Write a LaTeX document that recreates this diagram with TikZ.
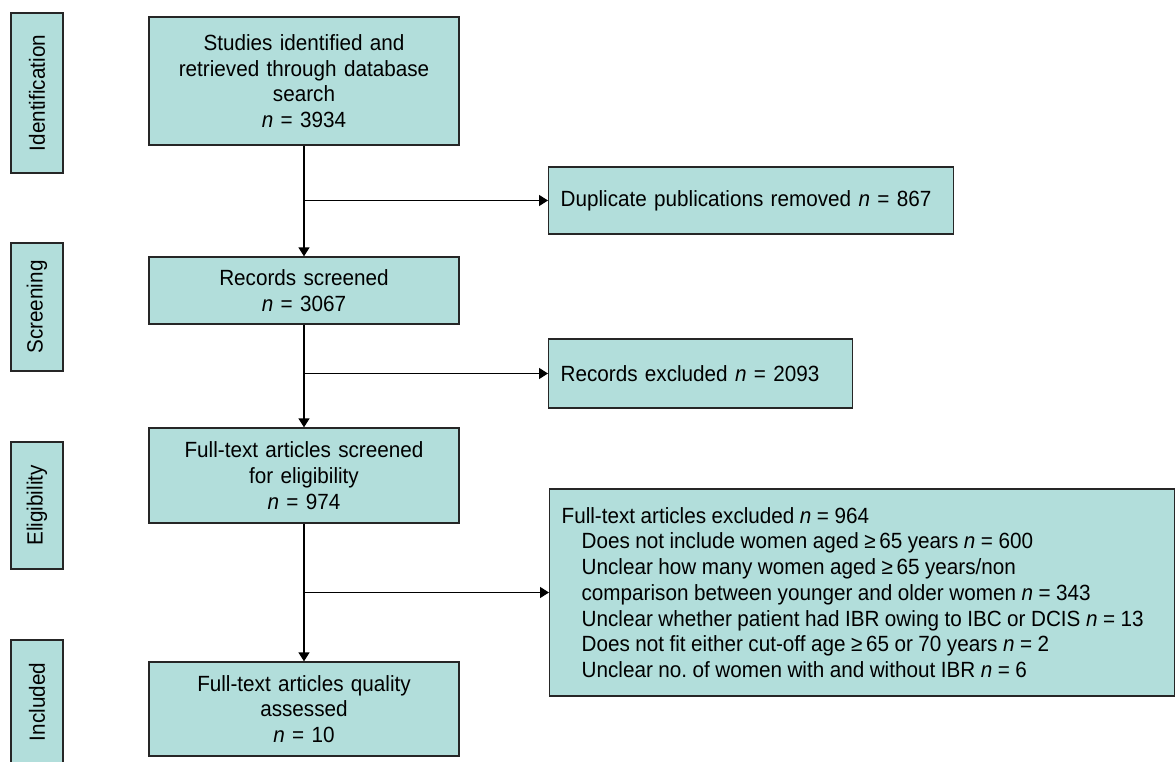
\documentclass[tikz,border=0pt]{standalone}
\usepackage{fontspec}
\setmainfont[FakeStretch=0.94]{Liberation Sans}
\usepackage{xcolor}
\usetikzlibrary{arrows.meta, positioning}
\definecolor{boxfill}{RGB}{178,222,219}

\tikzset{
  flowbox/.style={draw=black!85, line width=1.3pt, fill=boxfill,
    minimum width=310pt, text width=296pt, align=center, inner sep=0pt,
    font=\fontsize{22}{25.7}\selectfont},
  sidebox/.style={draw=black!85, line width=1.3pt, fill=boxfill,
    rotate=90, minimum height=52pt, inner sep=0pt,
    font=\fontsize{22}{25.7}\selectfont},
  exclbox/.style={draw=black!85, line width=1.3pt, fill=boxfill,
    anchor=west, align=left, inner xsep=12pt, inner ysep=0pt,
    font=\fontsize{22}{25.7}\selectfont},
  flow/.style={line width=1.4pt, -{Triangle[length=9pt,width=11pt]}}
}

\begin{document}
\begin{tikzpicture}[x=1pt, y={(0pt,-1pt)}]
\useasboundingbox (0,0) rectangle (1176,762);

% stage labels
\node (ident) [sidebox, minimum width=160pt] at (37,93) {Identification};
\node (screen) [sidebox, minimum width=128pt] at (37,307) {Screening};
\node (elig) [sidebox, minimum width=127pt] at (37,505.5) {Eligibility};
\node (incl) [sidebox, minimum width=124pt] at (37,702) {Included};

% main flow
\node (studies) [flowbox, minimum height=128pt] at (304,81)
  {Studies identified and\\retrieved through database\\search\\\textit{n} = 3934};
\node (records) [flowbox, minimum height=67pt] at (304,290.5)
  {Records screened\\\textit{n} = 3067};
\node (fulltext) [flowbox, minimum height=95pt] at (304,475.5)
  {Full-text articles screened\\for eligibility\\\textit{n} = 974};
\node (quality) [flowbox, minimum height=94pt] at (304,709)
  {Full-text articles quality\\assessed\\\textit{n} = 10};

% exclusions
\node (dupl) [exclbox, text width=381pt, minimum height=67pt] at (548,200.5)
  {Duplicate publications removed \textit{n} = 867};
\node (recexcl) [exclbox, text width=280pt, minimum height=69pt] at (548,373.5)
  {Records excluded \textit{n} = 2093};
\node (ftexcl) [exclbox, inner xsep=10pt, text width=605pt, minimum height=207pt] at (549,592.5)
  {\spaceskip=0.25em
   \hspace*{2pt}Full-text articles excluded \textit{n} = 964\\
   \hspace*{22pt}Does not include women aged ≥\,65 years \textit{n} = 600\\
   \hspace*{22pt}Unclear how many women aged ≥\,65 years/non\\
   \hspace*{22pt}comparison between younger and older women \textit{n} = 343\\
   \hspace*{22pt}\mbox{Unclear whether patient had IBR owing to IBC or DCIS \textit{n} = 13}\\
   \hspace*{22pt}Does not fit either cut-off age ≥\,65 or 70 years \textit{n} = 2\\
   \hspace*{22pt}Unclear no.\ of women with and without IBR \textit{n} = 6};

\draw[flow] (studies) -- (records);
\draw[flow] (records) -- (fulltext);
\draw[flow] (fulltext) -- (quality);

\draw[flow] (studies.south |- dupl.west) -- (dupl.west);
\draw[flow] (records.south |- recexcl.west) -- (recexcl.west);
\draw[flow] (fulltext.south |- ftexcl.west) -- (ftexcl.west);
\end{tikzpicture}
\end{document}
